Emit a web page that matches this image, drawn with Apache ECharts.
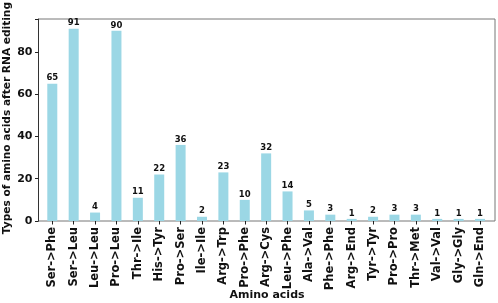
<!DOCTYPE html>
<html><head><meta charset="utf-8">
<script src="https://cdn.jsdelivr.net/npm/echarts@6/dist/echarts.min.js"></script>
<style>html,body{margin:0;padding:0;background:#fff}#c{width:498px;height:303px}</style>
</head><body><div id="c"></div>
<script>
const categories = ['Ser->Phe','Ser->Leu','Leu->Leu','Pro->Leu','Thr->Ile','His->Tyr','Pro->Ser','Ile->Ile','Arg->Trp','Pro->Phe','Arg->Cys','Leu->Phe','Ala->Val','Phe->Phe','Arg->End','Tyr->Tyr','Pro->Pro','Thr->Met','Val->Val','Gly->Gly','Gln->End'];
const values = [65,91,4,90,11,22,36,2,23,10,32,14,5,3,1,2,3,3,1,1,1];
const yTicks = [0,20,40,60,80];
const yMax = 95.6;
const yTitle = 'Types of amino acids after RNA editing';
const xTitle = 'Amino acids';
const font = 'DejaVu Sans';
const chart = echarts.init(document.getElementById('c'));
chart.setOption({
  animation:false,
  textStyle:{fontFamily:font},
  grid:[
    {left:38.5,right:3,top:19,bottom:82,show:true,borderColor:'#777',borderWidth:1,backgroundColor:'transparent',containLabel:false,outerBoundsMode:'none'},
    {left:41.6,right:7.3,top:19,bottom:82,containLabel:false,outerBoundsMode:'none'}
  ],
  graphic:[
    {type:'text',left:1.5,top:2,rotation:Math.PI/2,style:{text:yTitle,font:'bold 10.6px "DejaVu Sans"',fill:'#111'}},
    {type:'text',x:267,y:295,style:{text:xTitle,font:'bold 11px "DejaVu Sans"',fill:'#111',align:'center',verticalAlign:'middle'}}
  ],
  xAxis:[
    {gridIndex:0,type:'value',min:0,max:1,show:false},
    {gridIndex:1,type:'category',data:categories,
     axisLine:{show:false},
     axisTick:{show:true,alignWithLabel:true,length:3.5,lineStyle:{color:'#222'}},
     axisLabel:{rotate:90,interval:0,color:'#111',fontWeight:'bold',fontSize:11.5,fontFamily:font,margin:6}}
  ],
  yAxis:[
    {gridIndex:0,type:'value',min:0,max:yMax,interval:20,
     axisLine:{show:true,lineStyle:{color:'#333'}},
     axisTick:{show:true,length:3.5,lineStyle:{color:'#222'}},
     splitLine:{show:false},
     axisLabel:{color:'#111',fontWeight:'bold',fontSize:11,fontFamily:font,margin:6,
       formatter:v=>yTicks.includes(v)?String(v):''}},
    {gridIndex:1,type:'value',min:0,max:yMax,show:false}
  ],
  series:[{
    type:'bar',xAxisIndex:1,yAxisIndex:1,data:values,barWidth:10,
    itemStyle:{color:'#9bd7e5'},
    label:{show:true,position:'top',distance:1,color:'#111',fontWeight:'bold',fontSize:8.5,fontFamily:font}
  }]
});
</script></body></html>
